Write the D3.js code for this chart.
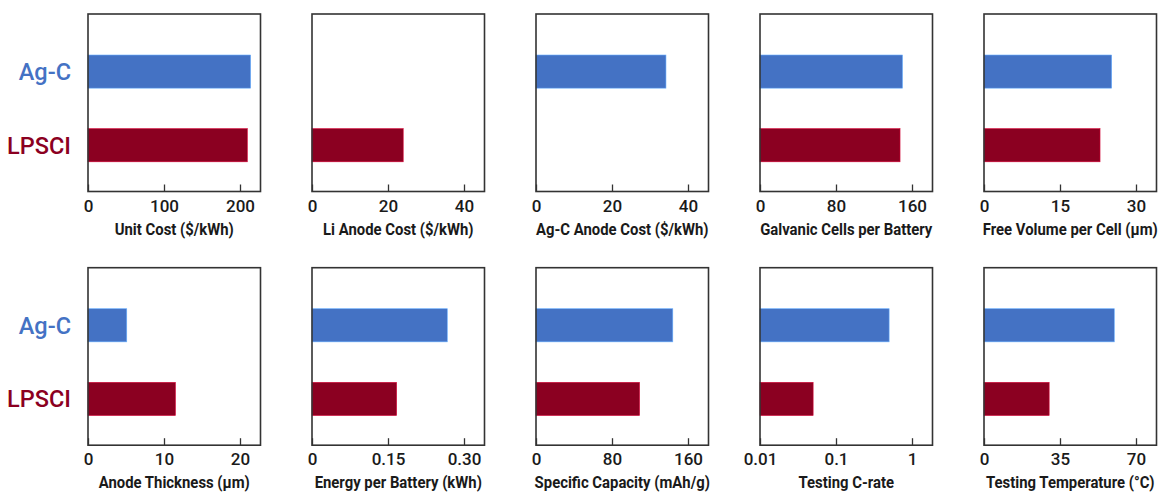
<!DOCTYPE html>
<html>
<head>
<meta charset="utf-8">
<script src="https://cdn.jsdelivr.net/npm/d3@7"></script>
<style>
  body { margin: 0; background: #fff; }
  svg text { font-family: Roboto, "Liberation Sans", sans-serif; }
</style>
</head>
<body>
<svg id="chart" width="1162" height="494"></svg>
<script>
// categories (rows inside each panel)
const groups = ["Ag-C", "LPSCI"];
const groupColors = ["#4472c4", "#8b0021"];

// one panel per metric
const titles = [
  "Unit Cost ($/kWh)", "Li Anode Cost ($/kWh)", "Ag-C Anode Cost ($/kWh)",
  "Galvanic Cells per Battery", "Free Volume per Cell (\u00b5m)",
  "Anode Thickness (\u00b5m)", "Energy per Battery (kWh)", "Specific Capacity (mAh/g)",
  "Testing C-rate", "Testing Temperature (\u00b0C)"
];
const agcValues    = [214, null, 34.2, 150, 25.2, 5.1, 0.267, 144, 0.5, 60];
const lpsclValues  = [209.6, 24, null, 147.4, 22.9, 11.5, 0.167, 109, 0.05, 30];
const tickValues = [
  [0, 100, 200], [0, 20, 40], [0, 20, 40], [0, 80, 160], [0, 15, 30],
  [0, 10, 20], [0, 0.15, 0.30], [0, 80, 160], [0.01, 0.1, 1], [0, 35, 70]
];
const tickLabels = [
  ["0", "100", "200"], ["0", "20", "40"], ["0", "20", "40"], ["0", "80", "160"], ["0", "15", "30"],
  ["0", "10", "20"], ["0", "0.15", "0.30"], ["0", "80", "160"], ["0.01", "0.1", "1"], ["0", "35", "70"]
];
const logPanel = [false, false, false, false, false, false, false, false, true, false];

var svg = d3.select("#chart");

var panelW = 172.5, panelH = 177.5, colStep = 224, left0 = 88;
var rowTops = [14, 267.7];

titles.forEach(function(title, i){
  var col = i % 5, row = Math.floor(i / 5);
  var g = svg.append("g")
    .attr("transform", "translate(" + (left0 + col * colStep) + "," + rowTops[row] + ")");

  var ticks = tickValues[i];
  // last tick sits at about 152px of the 172.5px frame
  var frac = panelW / 152;
  var x;
  if (logPanel[i]) {
    var l0 = Math.log10(ticks[0]), l2 = Math.log10(ticks[2]);
    x = d3.scaleLog().domain([ticks[0], Math.pow(10, l0 + (l2 - l0) * frac)]).range([0, panelW]);
  } else {
    x = d3.scaleLinear().domain([ticks[0], ticks[0] + (ticks[2] - ticks[0]) * frac]).range([0, panelW]);
  }

  var y = d3.scaleBand()
    .domain(groups)
    .range([0, panelH])
    .paddingInner(0.55)
    .paddingOuter(0.48)
    .align(0.58);

  var vals = [agcValues[i], lpsclValues[i]];
  var data = groups.map(function(k, j){ return {key: k, value: vals[j], color: groupColors[j]}; })
    .filter(function(d){ return d.value != null; });

  g.selectAll("rect.bar")
    .data(data)
    .enter().append("rect")
      .attr("class", "bar")
      .attr("x", x(ticks[0]))
      .attr("y", function(d){ return y(d.key); })
      .attr("width", function(d){ return x(d.value) - x(ticks[0]); })
      .attr("height", y.bandwidth())
      .attr("fill", function(d){ return d.color; })
      .attr("stroke", function(d){ return d3.color(d.color).brighter(1.2); })
      .attr("stroke-width", 0.6);

  // bottom axis with inward ticks
  var axis = g.append("g")
    .attr("transform", "translate(0," + panelH + ")")
    .call(d3.axisBottom(x).tickValues(ticks).tickSizeInner(-7).tickSizeOuter(0)
      .tickFormat(function(d, k){ return tickLabels[i][k]; }));
  axis.select(".domain").remove();
  axis.selectAll(".tick line").attr("stroke", "#333").attr("stroke-width", 1.3);
  axis.selectAll(".tick text")
    .attr("y", 20)
    .attr("dy", 0)
    .style("font-size", "17px")
    .style("font-weight", "500")
    .attr("fill", "#1a1a1a");

  // frame
  g.append("rect")
    .attr("width", panelW)
    .attr("height", panelH)
    .attr("fill", "none")
    .attr("stroke", "#333")
    .attr("stroke-width", 1.6);

  g.append("text")
    .text(title)
    .attr("transform", "translate(" + (panelW / 2) + "," + (panelH + 43) + ") scale(0.93,1)")
    .style("text-anchor", "middle")
    .style("font-size", "16px")
    .style("font-weight", "bold")
    .attr("fill", "#1a1a1a");

  // category labels on the left of the first column
  if (col === 0) {
    groups.forEach(function(k, j){
      g.append("text")
        .text(k)
        .attr("x", -17)
        .attr("y", y(k) + y.bandwidth() / 2 + 8.5)
        .style("text-anchor", "end")
        .style("font-size", "23.5px")
        .style("font-weight", "500")
        .attr("fill", groupColors[j]);
    });
  }
});
</script>
</body>
</html>
